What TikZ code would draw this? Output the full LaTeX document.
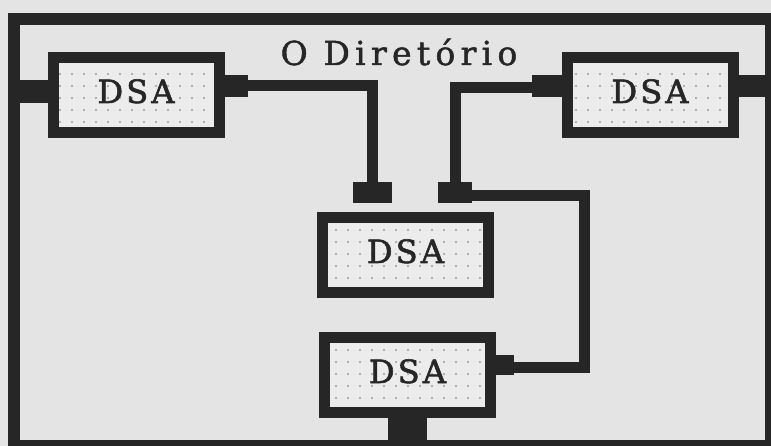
\documentclass[tikz,border=0pt]{standalone}
\usepackage{fontspec}
\newfontfamily\dirfont[LetterSpace=16,FakeBold=1.5]{DejaVu Serif}
\newfontfamily\dsafont[LetterSpace=10,FakeBold=1.8]{DejaVu Serif}
\usetikzlibrary{patterns.meta}
\definecolor{bg}{HTML}{E4E4E4}
\definecolor{ink}{HTML}{262626}
\definecolor{boxfill}{HTML}{ECECEC}
\definecolor{dotc}{HTML}{9C9C9C}
\tikzdeclarepattern{
  name=sparsedots,
  type=uncolored,
  bottom left={(-1.5pt,-1.5pt)},
  top right={(1.5pt,1.5pt)},
  tile size={(12pt,12pt)},
  code={\fill (0pt,0pt) circle (1.2pt);}
}
\begin{document}
\begin{tikzpicture}[x=1pt,y=-1pt,
  frame/.style={draw=ink, line width=12pt, minimum width=757pt, minimum height=427pt, inner sep=0pt},
  dsabox/.style={draw=ink, line width=11pt, minimum width=166pt, minimum height=75pt, inner sep=0pt,
    preaction={fill=boxfill}, pattern=sparsedots, pattern color=dotc,
    font={\dsafont\fontsize{32pt}{32pt}\selectfont}, text=ink, text height=16pt, text depth=0pt},
  stub/.style={draw=ink, line width=22pt},
  wire/.style={draw=ink, line width=11pt, line join=miter},
  block/.style={fill=ink, inner sep=0pt, minimum height=21pt},
  title/.style={font={\dirfont\fontsize{33pt}{33pt}\selectfont}, text=ink, inner sep=0pt}
]
\useasboundingbox (0,0) rectangle (771,446);
\fill[bg] (0,0) rectangle (771,446);

\node[frame] (dir) at (392.5,232.5) {};
\node[title, anchor=base] (ttl) at (399,65) {O Diretório};

\node[dsabox] (tl) at (136,95) {DSA};
\node[dsabox] (tr) at (650,95) {DSA};
\node[dsabox] (md) at (405.5,255) {DSA};
\node[dsabox] (bt) at (407.5,375) {DSA};

\node[block, minimum width=39pt] (mbl) at (372.5,192.5) {};
\node[block, minimum width=34pt] (mbr) at (455,192.5) {};

% stubs
\draw[stub, line width=23pt] ([yshift=3.5pt]tl.west) -- ([yshift=3.5pt]tl.west -| dir.west);
\draw[stub] ([yshift=9pt]tl.east) -- ++(23,0) coordinate (tlr);
\draw[stub] ([yshift=8.5pt]tr.west) -- ++(-30,0) coordinate (trl);
\draw[stub] ([yshift=9pt]tr.east) -- ([yshift=9pt]tr.east -| dir.east);
\draw[stub, line width=20pt] ([yshift=10pt]bt.east) -- ++(18,0) coordinate (btr);
\draw[stub, line width=39pt] (bt.south) -- (bt.south |- dir.south);

% wires
\draw[wire] ([yshift=9pt]tl.east) -| (mbl.north);
\draw[wire] ([yshift=7pt]tr.west) -| (mbr.north);
\coordinate (rc) at (584,196);
\draw[wire] ([yshift=-3.5pt]mbr.east) -- (rc) |- ([yshift=7.5pt]bt.east);
\end{tikzpicture}
\end{document}
